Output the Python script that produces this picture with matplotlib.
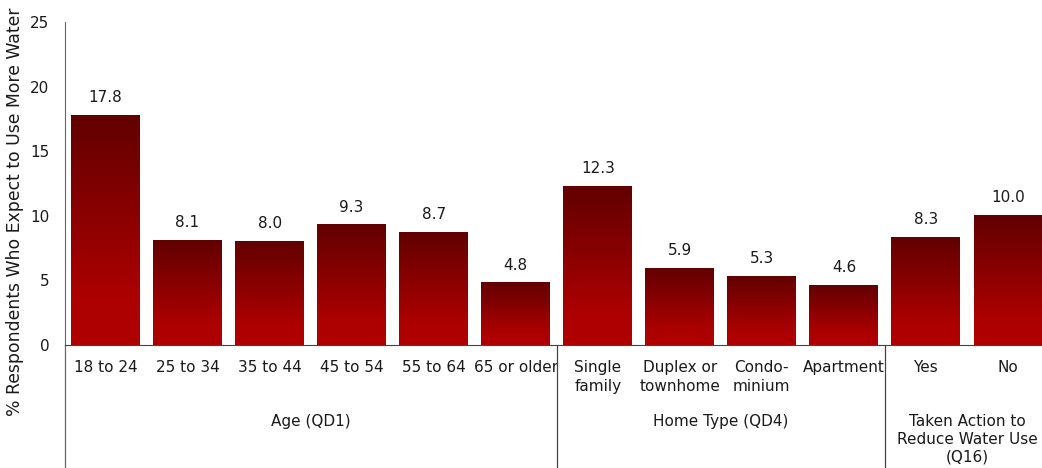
import numpy as np
import matplotlib.pyplot as plt
from matplotlib.colors import LinearSegmentedColormap

categories = ['18 to 24', '25 to 34', '35 to 44', '45 to 54', '55 to 64', '65 or older',
              'Single\nfamily', 'Duplex or\ntownhome', 'Condo-\nminium', 'Apartment',
              'Yes', 'No']
values = [17.8, 8.1, 8.0, 9.3, 8.7, 4.8, 12.3, 5.9, 5.3, 4.6, 8.3, 10.0]
groups = ['Age (QD1)', 'Home Type (QD4)', 'Taken Action to\nReduce Water Use\n(Q16)']
group_sizes = [6, 4, 2]

plt.rcParams['font.family'] = ['DejaVu Sans']
txt = '#1a1a1a'
fs = 11

fig = plt.figure(figsize=(10.42, 4.68), dpi=100)
ax = fig.add_axes([64.5 / 1042, 123 / 468, 984.5 / 1042, 323 / 468])

# rojo oscuro arriba, rojo vivo abajo
cmap = LinearSegmentedColormap.from_list('rojo', [(0, '#b00000'), (0.2, '#ad0000'), (1, '#620000')])
grad = np.linspace(0, 1, 256).reshape(-1, 1)

x = np.arange(len(values))
w = 0.84
bars = ax.bar(x, values, width=w, color='none')
for b, v in zip(bars, values):
    x0 = b.get_x()
    ax.imshow(grad, extent=(x0, x0 + w, 0, v), origin='lower', cmap=cmap,
              aspect='auto', zorder=2)
    ax.text(b.get_x() + w / 2, v + 0.8, f'{v:.1f}', ha='center', va='bottom',
            fontsize=fs, color=txt)

ax.set_xlim(-0.5, len(values) - 0.5)
ax.set_ylim(0, 25)
ax.set_yticks(range(0, 26, 5))
ax.set_xticks(x)
ax.set_xticklabels(categories, fontsize=fs, color=txt, linespacing=1.3)
ax.tick_params(axis='both', length=0, labelsize=fs, colors=txt)
ax.tick_params(axis='x', pad=11)
ax.tick_params(axis='y', pad=11)
fig.text(15 / 1042, 1 - 212 / 468, '% Respondents Who Expect to Use More Water',
         rotation=90, ha='center', va='center', fontsize=12.4, color=txt)

for s in ['top', 'right']:
    ax.spines[s].set_visible(False)
ax.spines['left'].set_color('#666666')
ax.spines['bottom'].set_color('#444444')

# separadores de grupos y etiquetas
ax.plot([-0.5, -0.5], [0, -10], color='#666666', lw=0.9, clip_on=False)
start = 0
for g, n in zip(groups, group_sizes):
    end = start + n
    if end < len(values):
        ax.plot([end - 0.5, end - 0.5], [0, -10], color='#444444', lw=0.9, clip_on=False)
    yy = -5.9 if '\n' not in g else -7.3
    ax.text((start + end - 1) / 2, yy, g, ha='center', va='center', fontsize=fs,
            color=txt, linespacing=1.2)
    start = end

fig.savefig('out.png', dpi=100)
